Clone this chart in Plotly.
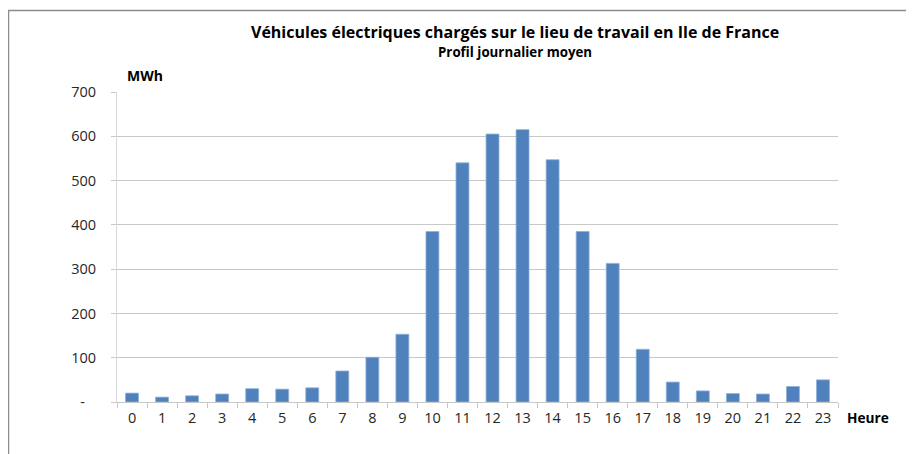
import plotly.graph_objects as go

hours = [str(h) for h in range(24)]
mwh = [20, 11, 14, 18, 30, 29, 32, 70, 101, 153, 385, 540, 605, 615, 547, 385, 313, 119, 45, 25, 19, 18, 35, 50]
ytick_vals = [0, 100, 200, 300, 400, 500, 600, 700]
ytick_text = ["-\u00a0\u00a0\u00a0", "100", "200", "300", "400", "500", "600", "700"]

title_text = "Véhicules électriques chargés sur le lieu de travail en Ile de France"
subtitle_text = "Profil journalier moyen"
y_label = "MWh"
x_label = "Heure"

FONT = "Open Sans"

fig = go.Figure(
    go.Bar(
        x=hours,
        y=mwh,
        marker=dict(color="#4f81bd", line=dict(color="#8db0db", width=0.8)),
        hoverinfo="x+y",
    )
)

fig.update_layout(
    width=914,
    height=454,
    margin=dict(l=109, r=84, t=84, b=60),
    paper_bgcolor="white",
    plot_bgcolor="white",
    bargap=0.57,
    showlegend=False,
    font=dict(family=FONT, size=13, color="#262626"),
    xaxis=dict(
        type="category",
        tickson="boundaries",
        ticks="outside",
        ticklen=5,
        tickcolor="#c8c8c8",
        showline=True,
        linecolor="#c8c8c8",
        showgrid=False,
        tickfont=dict(family=FONT, size=14.5, color="#262626"),
        ticklabelstandoff=3,
    ),
    yaxis=dict(
        range=[0, 700],
        tickvals=ytick_vals,
        ticktext=ytick_text,
        ticks="outside",
        ticklen=5,
        tickcolor="#c8c8c8",
        showgrid=True,
        gridcolor="#c8c8c8",
        gridwidth=1,
        showline=True,
        linecolor="#d9d9d9",
        zeroline=False,
        tickfont=dict(family=FONT, size=14.5, color="#262626"),
        ticklabelstandoff=12,
    ),
    annotations=[
        dict(text="<b>" + title_text + "</b>", xref="paper", yref="paper",
             x=0.552, y=1.1935, xanchor="center", yanchor="middle", showarrow=False,
             font=dict(family=FONT, size=16, color="#000000")),
        dict(text="<b>" + subtitle_text + "</b>", xref="paper", yref="paper",
             x=0.552, y=1.129, xanchor="center", yanchor="middle", showarrow=False,
             font=dict(family=FONT, size=13.3, color="#000000")),
        dict(text="<b>" + y_label + "</b>", xref="paper", yref="paper",
             x=0.011, y=1.0548, xanchor="left", yanchor="middle", showarrow=False,
             font=dict(family=FONT, size=14, color="#000000")),
        dict(text="<b>" + x_label + "</b>", xref="paper", yref="paper",
             x=1.0097, y=-0.0516, xanchor="left", yanchor="middle", showarrow=False,
             font=dict(family=FONT, size=13.7, color="#000000")),
    ],
    shapes=[
        dict(type="rect", xref="paper", yref="paper",
             x0=(8.5 - 117) / 721, x1=1.5, y0=-0.5, y1=(402 - 10.5) / 310,
             line=dict(color="#8c8c8c", width=1.5), fillcolor="rgba(0,0,0,0)", layer="below"),
    ],
)

fig.write_html("out.html")
